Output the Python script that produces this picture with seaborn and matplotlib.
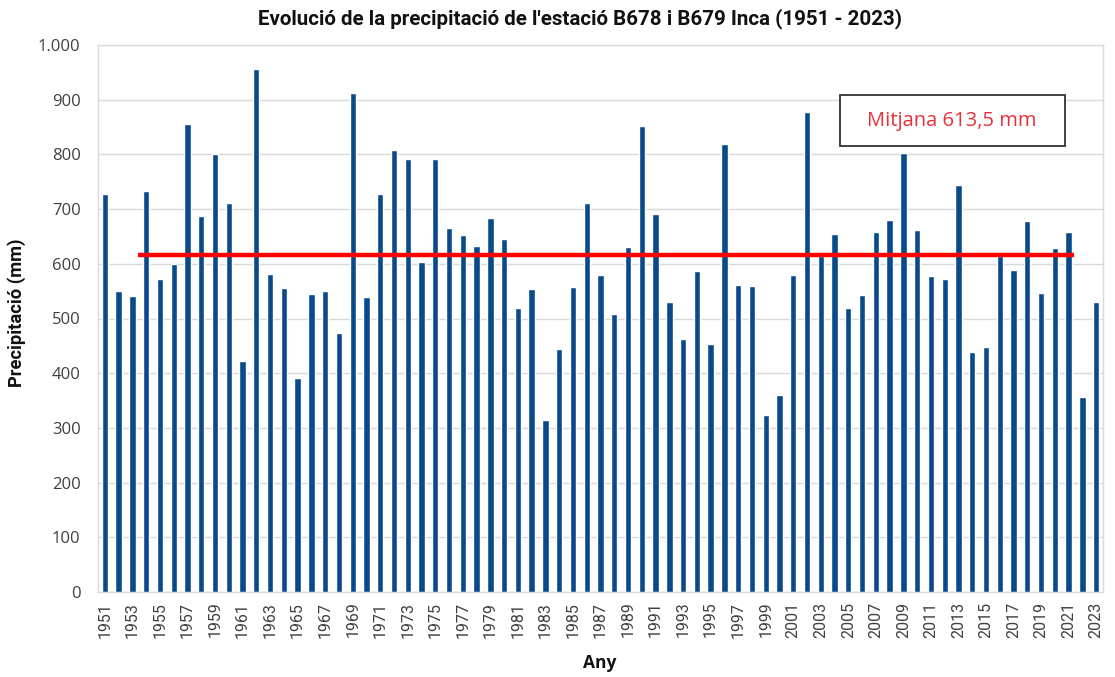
import matplotlib
matplotlib.use("Agg")
import matplotlib.pyplot as plt
from matplotlib import font_manager
from matplotlib.patches import Rectangle
import seaborn as sns
import pandas as pd

years = list(range(1951, 2024))
precip = [727, 550, 541, 734, 573, 599, 855, 688, 801, 712,
          422, 957, 581, 555, 391, 545, 551, 474, 912, 540,
          727, 808, 792, 604, 791, 665, 652, 632, 684, 645,
          520, 554, 314, 445, 557, 711, 580, 508, 630, 852,
          691, 530, 462, 586, 453, 819, 561, 559, 324, 360,
          580, 878, 615, 654, 520, 543, 658, 680, 803, 661,
          577, 572, 744, 439, 448, 615, 588, 678, 546, 629,
          658, 356, 531]
mean_label = "Mitjana 613,5 mm"
mean_line_value = 617
line_start_year = 1953.4
line_end_year = 2021.4
yticks = [0, 100, 200, 300, 400, 500, 600, 700, 800, 900, 1000]
ytick_labels = ["0", "100", "200", "300", "400", "500", "600", "700", "800", "900", "1.000"]
title = "Evolució de la precipitació de l'estació B678 i B679 Inca (1951 - 2023)"

df = pd.DataFrame({"Any": [str(y) for y in years], "Precipitacio": precip})

sns.set_theme(style="white")
plt.rcParams["font.family"] = ["Open Sans", "DejaVu Sans"]

names = {f.name for f in font_manager.fontManager.ttflist}
narrow = "Liberation Sans Narrow" if "Liberation Sans Narrow" in names else "Roboto"

W, H = 1115, 677
fig = plt.figure(figsize=(W / 100, H / 100), dpi=100)
ax = fig.add_axes([98 / W, 1 - 592 / H, 1005 / W, 547 / H])

sns.barplot(data=df, x="Any", y="Precipitacio", color="#0B4A8A", width=0.46,
            saturation=1, ax=ax, zorder=3)

ax.set_ylim(0, 1000)
ax.set_xlim(-0.5, len(years) - 0.5)
ax.set_yticks(yticks)
ax.set_yticklabels(ytick_labels, fontsize=12, color="#404040")
ax.yaxis.grid(True, color="#D9D9D9", linewidth=1, zorder=0)
ax.set_axisbelow(True)

pos = list(range(0, len(years), 2))
ax.set_xticks(pos)
ax.set_xticklabels([str(years[i]) for i in pos], rotation=90, fontsize=11.5,
                   color="#404040", family=[narrow, "DejaVu Sans"])
ax.tick_params(axis="y", length=0, pad=12.5)
ax.tick_params(axis="x", length=0, pad=7)

# mean line
x0 = line_start_year - years[0]
x1 = line_end_year - years[0]
ax.plot([x0, x1], [mean_line_value, mean_line_value], color="#FF0000", linewidth=3.2,
        zorder=4, solid_capstyle="butt")

for s in ax.spines.values():
    s.set_color("#D9D9D9")
    s.set_linewidth(1)

ax.set_xlabel("Any", fontsize=12.5, fontweight="bold", va="center", color="#111111")
ax.xaxis.set_label_coords(0.4995, (592 - 663) / 547)
ax.set_ylabel("Precipitació (mm)", fontsize=13.5, fontweight="bold", va="center",
              family=[narrow, "DejaVu Sans"], color="#111111")
ax.yaxis.set_label_coords((17 - 98) / 1005, 0.51)

t = fig.text(580.5 / W, 1 - 19 / H, title, ha="center", va="center", fontsize=13,
             fontweight="bold", family=[narrow, "DejaVu Sans"], color="#111111")

# fit title and ylabel lengths to the reference
fig.canvas.draw()
r = fig.canvas.get_renderer()
bb = t.get_window_extent(r)
t.set_fontsize(13 * 645 / bb.width)
yl = ax.yaxis.label
bb = yl.get_window_extent(r)
yl.set_fontsize(13.5 * 148 / bb.height)

# annotation box
fig.patches.append(Rectangle((840 / W, 1 - 146 / H), 225 / W, 51 / H,
                             transform=fig.transFigure, facecolor="white",
                             edgecolor="#333333", linewidth=1.3, zorder=6))
fig.text(952 / W, 1 - 121 / H, mean_label, ha="center", va="center",
         fontsize=14.5, color="#E8303A", zorder=7)

fig.savefig("out.png", dpi=100)
